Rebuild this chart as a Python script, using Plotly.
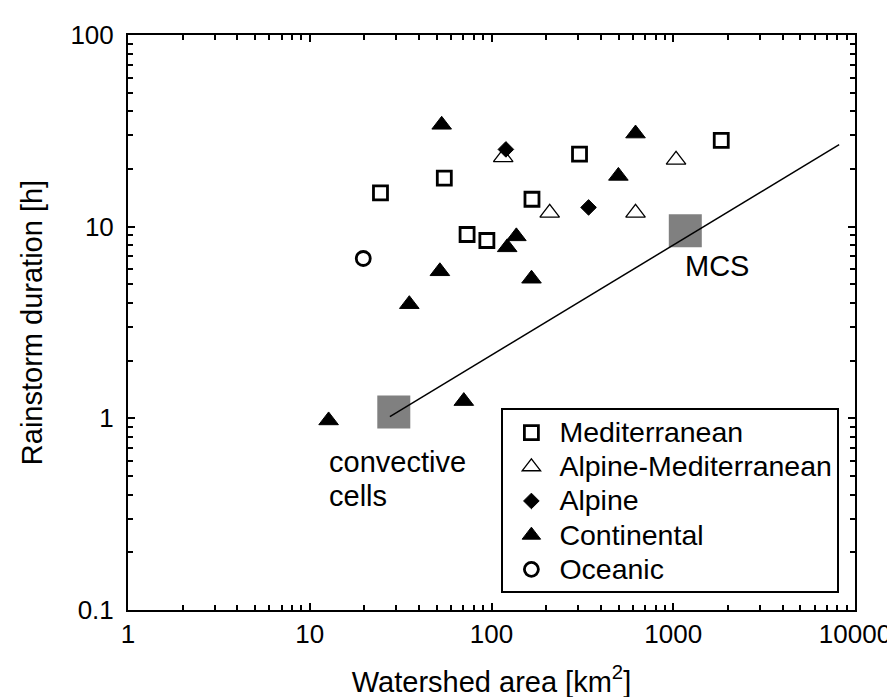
import math
import plotly.graph_objects as go

# ---- data ----
med_x = [24.5, 55, 305, 167, 73.4, 94.3, 1837]
med_y = [15, 17.9, 23.9, 13.9, 9.1, 8.47, 28.2]
am_x = [116, 209, 1036, 620]
am_y = [23.0, 11.8, 22.3, 11.8]
alp_x = [120, 342]
alp_y = [25.3, 12.6]
con_x = [53.2, 620, 499, 137, 122, 52, 166, 35.3, 70.4, 12.7]
con_y = [34.0, 30.6, 18.4, 8.9, 7.8, 5.85, 5.35, 3.94, 1.23, 0.975]
oce_x = [19.7]
oce_y = [6.82]
ref_x = [29, 1165]      # convective cells, MCS
ref_y = [1.08, 9.53]
fit_x = [27.6, 8180]
fit_y = [1.02, 26.8]

series_names = ["Mediterranean", "Alpine-Mediterranean", "Alpine", "Continental", "Oceanic"]

x_ticks = [1, 10, 100, 1000, 10000]
x_ticktext = ["1", "10", "100", "1000", "10000"]
y_ticks = [0.1, 1, 10, 100]
y_ticktext = ["0.1", "1", "10", "100"]

FONT = "Arial, Liberation Sans, sans-serif"


def leg(name):
    return "<span style='font-size:28.5px'>" + name + "</span>"


fig = go.Figure()

fig.add_trace(go.Scatter(x=ref_x, y=ref_y, mode="markers", showlegend=False,
                         marker=dict(symbol="square", size=33, color="#808080",
                                     line=dict(width=0))))
fig.add_trace(go.Scatter(x=fit_x, y=fit_y, mode="lines", showlegend=False,
                         line=dict(color="black", width=1.5)))

fig.add_trace(go.Scatter(x=med_x, y=med_y, mode="markers", name=leg(series_names[0]),
                         marker=dict(symbol="square", size=14, color="white",
                                     line=dict(color="black", width=2.8))))
fig.add_trace(go.Scatter(x=am_x, y=am_y, mode="markers", name=leg(series_names[1]),
                         marker=dict(symbol="triangle-up", size=17, color="white",
                                     line=dict(color="black", width=1.3))))
fig.add_trace(go.Scatter(x=alp_x, y=alp_y, mode="markers", name=leg(series_names[2]),
                         marker=dict(symbol="diamond", size=12, color="black",
                                     line=dict(color="black", width=1))))
fig.add_trace(go.Scatter(x=con_x, y=con_y, mode="markers", name=leg(series_names[3]),
                         marker=dict(symbol="triangle-up", size=17, color="black",
                                     line=dict(color="black", width=1))))
fig.add_trace(go.Scatter(x=oce_x, y=oce_y, mode="markers", name=leg(series_names[4]),
                         marker=dict(symbol="circle", size=14, color="white",
                                     line=dict(color="black", width=2.8))))

minor_x = [m * 10 ** e for e in range(0, 4) for m in range(2, 10)]
minor_y = [m * 10 ** e for e in range(-1, 2) for m in range(2, 10)]

axis_common = dict(type="log", ticks="inside", ticklen=7, tickwidth=1.5, tickcolor="black",
                   showline=True, linecolor="black", linewidth=2, mirror="ticks",
                   showgrid=False, zeroline=False,
                   tickfont=dict(size=26, family=FONT, color="black"))

fig.update_xaxes(**axis_common, range=[0, 4], tickvals=x_ticks, ticktext=x_ticktext,
                 minor=dict(ticks="inside", ticklen=5, tickwidth=1.5, tickcolor="black",
                            tickvals=minor_x, showgrid=False),
                 ticklabelstandoff=0,
                 title=dict(text="Watershed area [km<sup>2</sup>]",
                            font=dict(size=29, family=FONT, color="black"), standoff=23))
fig.update_yaxes(**axis_common, range=[-1, 2], tickvals=y_ticks, ticktext=y_ticktext,
                 minor=dict(ticks="inside", ticklen=5, tickwidth=1.5, tickcolor="black",
                            tickvals=minor_y, showgrid=False),
                 ticklabelstandoff=7,
                 title=dict(text="Rainstorm duration [h]",
                            font=dict(size=29, family=FONT, color="black"), standoff=19))

ann_font = dict(size=29, family=FONT, color="black")
fig.add_annotation(x=1.0954, y=-0.2265, xref="x", yref="y", text="convective",
                   showarrow=False, xanchor="left", yanchor="middle", font=ann_font)
fig.add_annotation(x=1.0954, y=-0.407, xref="x", yref="y", text="cells",
                   showarrow=False, xanchor="left", yanchor="middle", font=ann_font)
fig.add_annotation(x=3.0518, y=0.795, xref="x", yref="y", text="MCS",
                   showarrow=False, xanchor="left", yanchor="middle", font=ann_font)

fig.update_layout(
    width=895, height=697,
    margin=dict(l=120, r=41, t=23, b=92),
    paper_bgcolor="white", plot_bgcolor="white",
    font=dict(family=FONT, size=26, color="black"),
    legend=dict(x=0.5136, y=0.3505, xanchor="left", yanchor="top",
                bordercolor="black", borderwidth=2, bgcolor="white",
                font=dict(size=24, family=FONT, color="black"),
                itemwidth=46, tracegroupgap=0),
)

fig.write_html("out.html")
